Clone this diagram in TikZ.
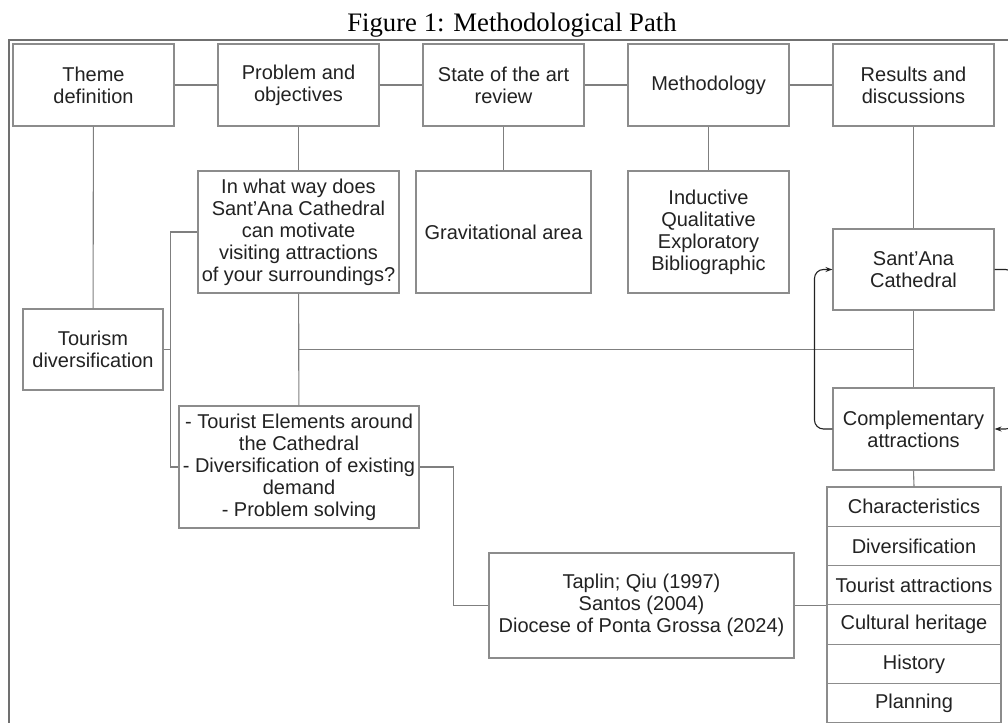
\documentclass[tikz,border=0pt]{standalone}
\usepackage{fontspec}
\setmainfont{Liberation Serif}
\newfontfamily\boxfont{Liberation Sans}
\usetikzlibrary{arrows.meta}

\definecolor{boxgray}{HTML}{8C8C8C}
\definecolor{linegray}{HTML}{7F7F7F}
\definecolor{framegray}{HTML}{707070}
\definecolor{txtgray}{HTML}{222222}

\begin{document}
\begin{tikzpicture}[x=1pt,y=-1pt,
    box/.style={draw=boxgray,line width=1.1pt,fill=white,inner sep=0pt,align=center,
        text=txtgray,font=\boxfont\fontsize{20}{22}\selectfont},
    stage/.style={box,minimum width=161pt,minimum height=82pt},
    link/.style={draw=linegray,line width=1.1pt},
    loop/.style={draw=txtgray,line width=1.1pt,rounded corners=9pt,
        -{Stealth[length=7pt,width=5pt]}}]
    \useasboundingbox (0,0) rectangle (1008,722);
    \clip (0,0) rectangle (1008,722);

    % title and frame
    \node[anchor=base,text=black,font=\fontsize{26.7}{30}\selectfont] (title) at (512,32) {Figure 1: Methodological Path};
    \draw[framegray,line width=2pt] (9,40) rectangle (1040,760);

    % top row
    \node[stage] (theme) at (93.5,85) {Theme\\definition};
    \node[stage] (problem) at (298.5,85) {Problem and\\objectives};
    \node[stage] (state) at (503.5,85) {State of the art\\review};
    \node[stage] (method) at (708.5,85) {Methodology};
    \node[stage] (results) at (913.5,85) {Results and\\discussions};

    % second row
    \node[box,minimum width=201pt,minimum height=122pt] (question) at (298.5,232)
        {In what way does\\Sant’Ana Cathedral\\can motivate\\visiting attractions\\of your surroundings?};
    \node[box,minimum width=175pt,minimum height=122pt] (grav) at (503.5,232) {Gravitational area};
    \node[box,minimum width=161pt,minimum height=122pt] (induct) at (708.5,232)
        {Inductive\\Qualitative\\Exploratory\\Bibliographic};
    \node[box,minimum width=161pt,minimum height=81pt] (sant) at (913.5,269.5) {Sant’Ana\\Cathedral};

    % lower part
    \node[box,minimum width=140pt,minimum height=81pt] (tourism) at (93,349.5) {Tourism\\diversification};
    \node[stage] (comp) at (913.5,429) {Complementary\\attractions};
    \node[box,minimum width=240pt,minimum height=122pt] (elements) at (299,467)
        {- Tourist Elements around\\the Cathedral\\- Diversification of existing\\demand\\- Problem solving};
    \node[box,minimum width=305pt,minimum height=105pt] (refs) at (641.5,605.5)
        {Taplin; Qiu (1997)\\Santos (2004)\\Diocese of Ponta Grossa (2024)};

    % table of topics
    \foreach \txt [count=\i] in {Characteristics,Diversification,Tourist attractions,Cultural heritage,History,Planning}
        \node[box,minimum width=174pt,minimum height=39.3pt] (row\i) at (914,487+39.3*\i-19.65) {\txt};

    % links
    \draw[link] (theme) -- (problem);
    \draw[link] (problem) -- (state);
    \draw[link] (state) -- (method);
    \draw[link] (method) -- (results);
    \draw[link] (theme) -- (tourism);
    \draw[link] (problem) -- (question);
    \draw[link] (state) -- (grav);
    \draw[link] (method) -- (induct);
    \draw[link] (results) -- (sant);
    \draw[link] (sant) -- (comp);
    \draw[link] (comp.south) -- (row1.north);
    \draw[link] (question) -- (elements);
    \coordinate (jq) at (question.south |- tourism.east);
    \draw[link] (jq) -- (jq -| sant.south);
    \draw[link] (question.west) -- ++(-27,0) coordinate (brk) |- (elements.west);
    \draw[link] (tourism.east) -- (tourism.east -| brk);
    \draw[link] (elements.east) -- ++(34,0) |- (refs.west);
    \draw[link] (refs.east) -- (refs.east -| row1.west);

    % loops between cathedral and attractions
    \draw[loop] (comp.west) -- ++(-18,0) |- (sant.west);
    \draw[loop] (sant.east) -- ++(20,0) |- (comp.east);
\end{tikzpicture}
\end{document}
